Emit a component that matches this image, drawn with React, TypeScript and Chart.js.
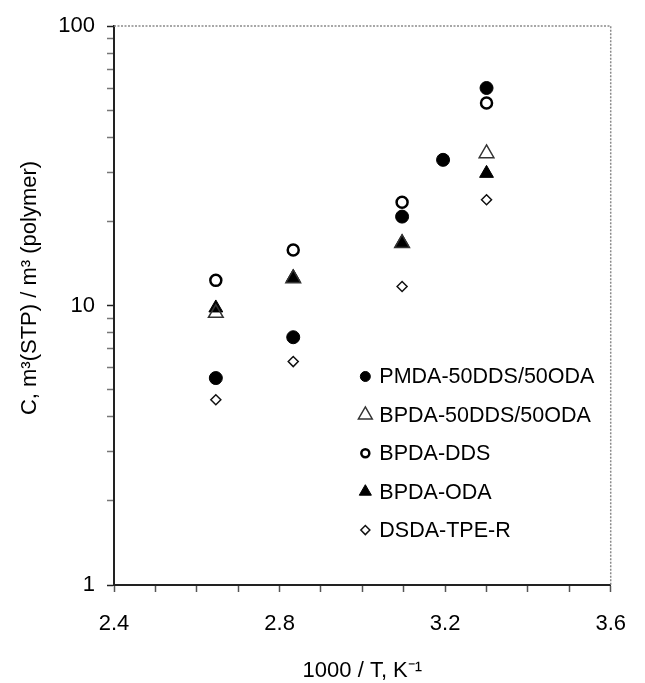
import React, { useEffect, useRef } from 'react';
import { Chart, registerables } from 'chart.js';
import { drawPoint } from 'chart.js/helpers';

Chart.register(...registerables);

// ---- data ----
const X_VALUES = [2.646, 2.833, 3.096, 3.195, 3.3];
const SERIES_NAMES = ['PMDA-50DDS/50ODA', 'BPDA-50DDS/50ODA', 'BPDA-DDS', 'BPDA-ODA', 'DSDA-TPE-R'];
const PMDA_50DDS_50ODA = [5.5, 7.7, 20.8, 33.2, 60];
const BPDA_50DDS_50ODA = [9.4, 12.5, 16.7, null, 35];
const BPDA_DDS = [12.3, 15.8, 23.4, null, 53];
const BPDA_ODA = [9.8, 12.6, 16.8, null, 29.7];
const DSDA_TPE_R = [4.6, 6.3, 11.7, null, 23.9];
const X_TICKS = [2.4, 2.5, 2.6, 2.7, 2.8, 2.9, 3.0, 3.1, 3.2, 3.3, 3.4, 3.5, 3.6];
const X_TICK_LABELS = ['2.4', '2.8', '3.2', '3.6'];
const Y_TICKS = [1, 2, 3, 4, 5, 6, 7, 8, 9, 10, 20, 30, 40, 50, 60, 70, 80, 90, 100];
const Y_TICK_LABELS = ['1', '10', '100'];
const X_TITLE = '1000 / T, K\u207B\u00B9';
const Y_TITLE = 'C, m\u00B3(STP) / m\u00B3 (polymer)';

const FONT = '"Liberation Sans", Arial, Helvetica, sans-serif';

const SERIES_VALUES = [PMDA_50DDS_50ODA, BPDA_50DDS_50ODA, BPDA_DDS, BPDA_ODA, DSDA_TPE_R];

const STYLES = [
  { pointStyle: 'circle', radius: 6.5, bg: '#000', border: '#000', bw: 1, legendRadius: 5 },
  { pointStyle: 'triangle', radius: 8.5, bg: 'rgba(0,0,0,0)', border: '#333', bw: 1.5, legendRadius: 8 },
  { pointStyle: 'circle', radius: 5.5, bg: 'rgba(0,0,0,0)', border: '#000', bw: 2.5, legendRadius: 4 },
  { pointStyle: 'triangle', radius: 8, bg: '#000', border: '#000', bw: 1, legendRadius: 7 },
  { pointStyle: 'rectRot', radius: 5, bg: 'rgba(0,0,0,0)', border: '#111', bw: 1.5, legendRadius: 4.5 },
];

const framePlugin = {
  id: 'frameTopRight',
  afterDraw(chart: any) {
    const { ctx, chartArea } = chart;
    ctx.save();
    ctx.strokeStyle = '#8a8a8a';
    ctx.lineWidth = 1.5;
    ctx.setLineDash([2, 1.5]);
    ctx.beginPath();
    ctx.moveTo(chartArea.left, chartArea.top);
    ctx.lineTo(chartArea.right, chartArea.top);
    ctx.lineTo(chartArea.right, chartArea.bottom);
    ctx.stroke();
    ctx.restore();
  },
};

const insideLegendPlugin = {
  id: 'insideLegend',
  afterDraw(chart: any) {
    const { ctx, chartArea } = chart;
    const markerX = chartArea.left + 0.506 * (chartArea.right - chartArea.left);
    const textX = markerX + 14;
    const top = chartArea.top + 0.627 * (chartArea.bottom - chartArea.top);
    const gap = 38.4;
    ctx.save();
    chart.data.datasets.forEach((ds: any, i: number) => {
      const st = STYLES[i];
      const y = top + i * gap;
      ctx.fillStyle = st.bg;
      ctx.strokeStyle = st.border;
      ctx.lineWidth = st.bw;
      drawPoint(ctx, { pointStyle: st.pointStyle, radius: st.legendRadius, borderWidth: st.bw, rotation: 0 } as any, markerX, y);
      ctx.fillStyle = '#000';
      ctx.font = `21.5px ${FONT}`;
      ctx.textAlign = 'left';
      ctx.textBaseline = 'middle';
      ctx.fillText(ds.label, textX, y + 1);
    });
    ctx.restore();
  },
};

const axisTitlesPlugin = {
  id: 'axisTitles',
  afterDraw(chart: any) {
    const { ctx, chartArea } = chart;
    ctx.save();
    ctx.fillStyle = '#000';
    ctx.font = `22px ${FONT}`;
    ctx.textAlign = 'center';
    ctx.textBaseline = 'middle';
    ctx.fillText(X_TITLE, (chartArea.left + chartArea.right) / 2, 671);
    ctx.translate(30, 288);
    ctx.rotate(-Math.PI / 2);
    ctx.fillText(Y_TITLE, 0, 0);
    ctx.restore();
  },
};

export default function App() {
  const canvasRef = useRef<HTMLCanvasElement | null>(null);

  useEffect(() => {
    if (!canvasRef.current) return;
    const datasets = SERIES_NAMES.map((name, i) => {
      const st = STYLES[i];
      return {
        label: name,
        data: X_VALUES.map((x, j) => ({ x, y: SERIES_VALUES[i][j] })).filter((p) => p.y !== null),
        pointStyle: st.pointStyle,
        pointRadius: st.radius,
        backgroundColor: st.bg,
        borderColor: st.border,
        borderWidth: st.bw,
        showLine: false,
      };
    });

    const chart = new Chart(canvasRef.current, {
      type: 'scatter',
      data: { datasets } as any,
      options: {
        animation: false,
        responsive: false,
        events: [],
        layout: { padding: { top: 26, right: 22, left: 0, bottom: 0 } },
        plugins: {
          legend: { display: false },
          tooltip: { enabled: false },
        },
        scales: {
          x: {
            type: 'linear',
            min: 2.4,
            max: 3.6,
            afterBuildTicks: (s: any) => {
              s.ticks = X_TICKS.map((v) => ({ value: v }));
            },
            afterFit: (s: any) => {
              s.height = 98;
            },
            ticks: {
              autoSkip: false,
              maxRotation: 0,
              padding: 19,
              color: '#000',
              font: { family: FONT, size: 22 },
              callback: (v: any) => {
                const s = Number(v).toFixed(1);
                return X_TICK_LABELS.includes(s) ? s : '';
              },
            },
            grid: { drawOnChartArea: false, drawTicks: true, tickLength: 7, tickColor: '#555', tickWidth: 1.5 },
            border: { display: true, color: '#222', width: 2 },
          },
          y: {
            type: 'logarithmic',
            min: 1,
            max: 100,
            afterBuildTicks: (s: any) => {
              s.ticks = Y_TICKS.map((v) => ({ value: v }));
            },
            afterFit: (s: any) => {
              s.width = 114;
            },
            ticks: {
              autoSkip: false,
              padding: 12,
              color: '#000',
              font: { family: FONT, size: 22 },
              callback: (v: any) => {
                const s = String(v);
                return Y_TICK_LABELS.includes(s) ? s : '';
              },
            },
            grid: {
              drawOnChartArea: false,
              drawTicks: true,
              tickLength: 7,
              tickWidth: 1.5,
              tickColor: (c: any) => (c.tick && Y_TICK_LABELS.includes(String(c.tick.value)) ? '#222' : '#777'),
            },
            border: { display: true, color: '#222', width: 2 },
          },
        },
      } as any,
      plugins: [framePlugin, insideLegendPlugin, axisTitlesPlugin],
    });
    return () => chart.destroy();
  }, []);

  return (
    <div style={{ position: 'absolute', left: 0, top: 0, width: 645, height: 683, background: '#fff' }}>
      <canvas ref={canvasRef} width={645} height={683} style={{ display: 'block' }} />
    </div>
  );
}
